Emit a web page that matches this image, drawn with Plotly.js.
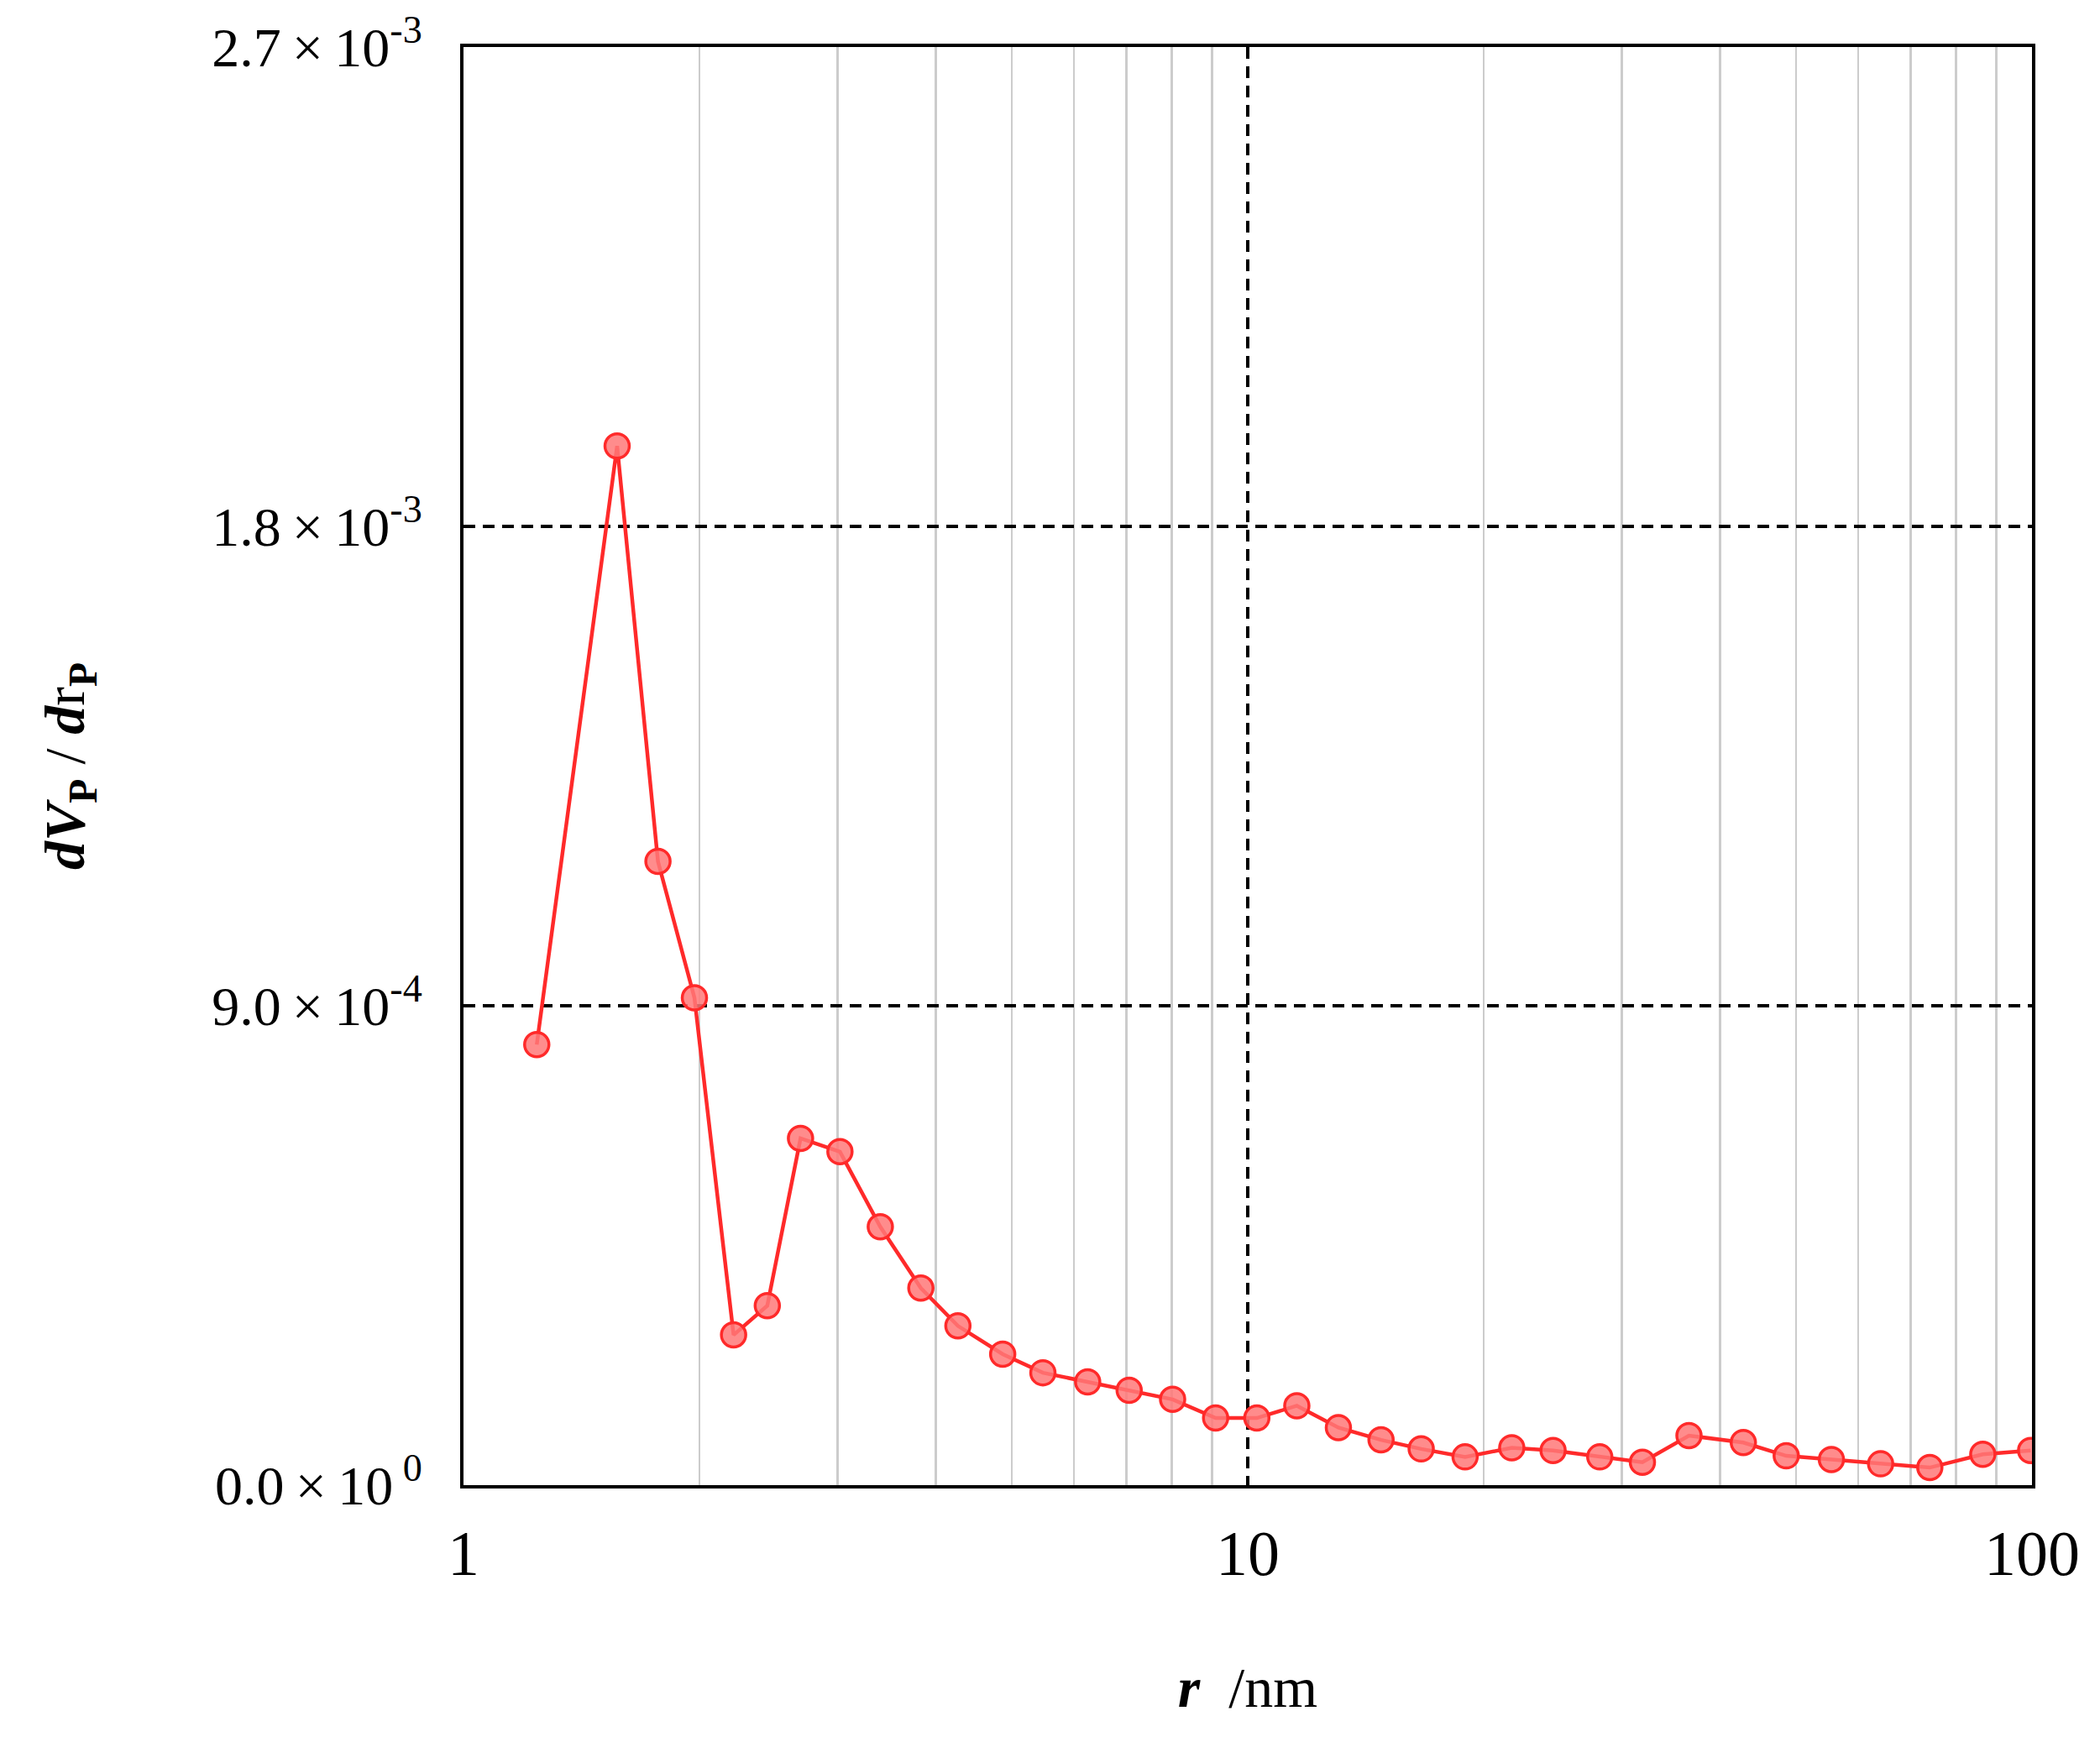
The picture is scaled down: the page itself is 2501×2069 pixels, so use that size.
<!DOCTYPE html>
<html>
<head>
<meta charset="utf-8">
<script src="https://cdn.plot.ly/plotly-3.0.1.min.js"></script>
<style>
  html, body { margin: 0; padding: 0; background: #ffffff; }
  #chart { width: 2501px; height: 2069px; }
</style>
</head>
<body>
<div id="chart"></div>
<script>
// Pore size distribution: r (nm) against dVp/drp.
const RADIUS_NM = [
  1.24, 1.57, 1.77, 1.97, 2.21, 2.44, 2.69, 3.02, 3.40, 3.83,
  4.27, 4.87, 5.48, 6.25, 7.06, 8.02, 9.10, 10.27, 11.55, 13.05,
  14.79, 16.64, 18.93, 21.71, 24.51, 28.11, 31.86, 36.53, 42.85, 48.60,
  55.49, 64.12, 74.08, 86.55, 99.6,
];
const DV_DR = [
  8.27e-4, 1.951e-3, 1.171e-3, 9.15e-4, 2.82e-4, 3.37e-4, 6.51e-4, 6.26e-4, 4.85e-4, 3.70e-4,
  2.99e-4, 2.46e-4, 2.11e-4, 1.94e-4, 1.78e-4, 1.61e-4, 1.26e-4, 1.26e-4, 1.49e-4, 1.08e-4,
  8.5e-5, 6.8e-5, 5.3e-5, 7.0e-5, 6.5e-5, 5.3e-5, 4.3e-5, 9.3e-5, 8.0e-5, 5.5e-5,
  4.8e-5, 4.0e-5, 3.3e-5, 5.8e-5, 6.5e-5,
];

const X_TICK_VALS = [1, 10, 100];
const X_TICK_TEXT = ["1", "10", "100"];
const X_MINOR_VALS = [2, 3, 4, 5, 6, 7, 8, 9, 20, 30, 40, 50, 60, 70, 80, 90];
const Y_TICK_VALS = [0, 9e-4, 1.8e-3, 2.7e-3];
const Y_TICK_TEXT = [
  "0.0\u2009×\u200910<sup> 0</sup>",
  "9.0\u2009×\u200910<sup>-4</sup>",
  "1.8\u2009×\u200910<sup>-3</sup>",
  "2.7\u2009×\u200910<sup>-3</sup>",
];

const SERIF = "'Liberation Serif', 'DejaVu Serif', serif";
const RED = "#ff2a2a";
const PINK = "rgba(255, 120, 120, 0.85)";
const DASH = "14px,9px";

const data = [{
  type: "scatter",
  mode: "lines+markers",
  x: RADIUS_NM,
  y: DV_DR,
  line: { color: RED, width: 4.5 },
  marker: { size: 29, color: PINK, line: { color: RED, width: 3.5 } },
  cliponaxis: true,
  showlegend: false,
}];

const layout = {
  width: 2501,
  height: 2069,
  paper_bgcolor: "#ffffff",
  plot_bgcolor: "#ffffff",
  font: { family: SERIF, color: "#000000", size: 66 },
  margin: { l: 552, r: 81, t: 56, b: 300, autoexpand: false },
  xaxis: {
    type: "log",
    range: [0, 2],
    tickmode: "array",
    tickvals: X_TICK_VALS,
    ticktext: X_TICK_TEXT,
    ticks: "",
    ticklabelstandoff: 12,
    tickfont: { family: SERIF, size: 76, color: "#000000" },
    showgrid: true,
    gridcolor: "#000000",
    gridwidth: 4,
    griddash: DASH,
    minor: {
      tickmode: "array",
      tickvals: X_MINOR_VALS,
      ticks: "",
      showgrid: true,
      gridcolor: "#cccccc",
      gridwidth: 2.5,
      griddash: "solid",
    },
    showline: true,
    mirror: true,
    linecolor: "#000000",
    linewidth: 4,
    zeroline: false,
    title: {
      text: "<b><i>r</i></b>  /nm",
      font: { family: SERIF, size: 68, color: "#000000" },
      standoff: 95,
    },
  },
  yaxis: {
    range: [0, 2.7e-3],
    tickmode: "array",
    tickvals: Y_TICK_VALS,
    ticktext: Y_TICK_TEXT,
    ticks: "",
    ticklabelstandoff: 32,
    tickfont: { family: SERIF, size: 66, color: "#000000" },
    showgrid: true,
    gridcolor: "#000000",
    gridwidth: 4,
    griddash: DASH,
    showline: true,
    mirror: true,
    linecolor: "#000000",
    linewidth: 4,
    zeroline: false,
    title: {
      text: "<b><i>dV</i><sub>P</sub></b> / <b><i>d</i></b>r<sub><b>P</b></sub>",
      font: { family: SERIF, size: 68, color: "#000000" },
      standoff: 130,
    },
  },
};

Plotly.newPlot("chart", data, layout, { displayModeBar: false, staticPlot: true });
</script>
</body>
</html>
